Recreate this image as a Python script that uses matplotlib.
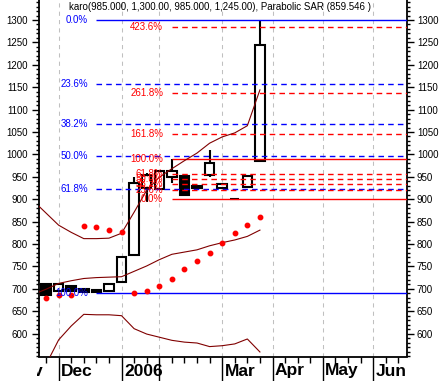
import numpy as np
import matplotlib.pyplot as plt
from matplotlib.ticker import FixedLocator, MultipleLocator
from matplotlib.transforms import Bbox, TransformedBbox, blended_transform_factory

plt.rcParams['font.family'] = ['Liberation Sans', 'DejaVu Sans']

# weekly bars, week 0 = first week of Dec 2005
weeks  = [-1, 0, 1, 2, 3, 4, 5, 6, 7, 8, 9, 10, 11, 12, 13, 14, 15, 16]
opens  = [711, 695, 706, 699, 697, 695, 716, 775, 925, 922, 950, 952, 929, 955, 926, 901, 927, 985]
highs  = [711, 710, 706, 699, 697, 710, 770, 949, 958, 964, 990.5, 955, 929, 1010, 933, 901, 951, 1300]
lows   = [686, 695, 695, 693, 691, 695, 716, 775, 893, 922, 936, 909, 925, 950, 926, 898, 927, 985]
closes = [686, 710, 695, 693, 692, 710, 770, 937, 955, 964, 962, 910, 925, 981, 933, 901, 951, 1245]

# bollinger bands (one more week on the left, cut off by the axes)
bb_weeks = [-2] + weeks
bb_upper = [896, 869, 842, 826, 812, 812, 813, 824, 871, 920, 949, 968, 986, 1003, 1025, 1039, 1048, 1064, 1144]
bb_mid   = [688, 699, 712, 718, 723, 725, 726, 727, 739, 751, 765, 777, 782, 787, 796, 803, 809, 817, 831]
bb_lower = [480, 531, 586, 617, 643, 642, 642, 640, 611, 599, 592, 585, 581, 579, 571, 573, 577, 588, 559]

# parabolic SAR
sar = [679, 686, 686, 840, 837, 831, 826, 691, 695, 706, 721, 743.5, 763, 781, 803, 824, 842, 859.5]

month_pos = [-4, 0, 5, 8, 13, 17, 21, 25]
month_labels = ['Nov', 'Dec', '2006', '', 'Mar', 'Apr', 'May', 'Jun']

# fibonacci retracement (blue), week 3 low -> week 16 high
retr_low, retr_high, retr_start = 691, 1300, 3
retr_ratios = [0.0, 0.236, 0.382, 0.5, 0.618, 1.0]
# fibonacci extension (red), week 14 low / week 9 high
ext_base, ext_top, ext_start = 900, 990.5, 9
ext_ratios = [0.0, 0.236, 0.382, 0.5, 0.618, 1.0, 1.618, 2.618, 4.236]

title = 'karo(985.000, 1,300.00, 985.000, 1,245.00), Parabolic SAR (859.546 )'

W, H = 443, 381
fig = plt.figure(figsize=(W / 100, H / 100), dpi=100)
ax = fig.add_axes([38.5 / W, 24.5 / H, 368 / W, 356.5 / H])
ax.set_xlim(-1.6, 27.65)
ax.set_ylim(548.9, 1344.6)
xmax = ax.get_xlim()[1]

# candles
o = np.array(opens, float)
c = np.array(closes, float)
body_lo = np.minimum(o, c)
body_hi = np.maximum(o, c)
faces = ['none' if cc >= oo else 'black' for oo, cc in zip(o, c)]
ax.vlines(weeks, lows, body_lo, color='k', lw=1.5, zorder=2)
ax.vlines(weeks, body_hi, highs, color='k', lw=1.5, zorder=2)
ax.bar(weeks, body_hi - body_lo, bottom=body_lo, width=0.75, color=faces,
       edgecolor='k', linewidth=1.5, zorder=2)

# fib lines
for r in retr_ratios:
    lvl = retr_high - r * (retr_high - retr_low)
    ls = '-' if r in (0.0, 1.0) else (0, (4, 3))
    ax.hlines(lvl, retr_start, xmax, color='#0000ff', lw=1, linestyles=ls, zorder=3)
    ax.text(retr_start - 0.67, lvl, f'{r * 100:.1f}%', color='#0000ff', ha='right',
            va='center', fontsize=7, zorder=5)
for r in ext_ratios:
    lvl = ext_base + r * (ext_top - ext_base)
    ls = '-' if r in (0.0, 1.0) else (0, (4, 3))
    ax.hlines(lvl, ext_start, xmax, color='#ff0000', lw=1, linestyles=ls, zorder=3)
    ax.text(ext_start - 0.69, lvl, f'{r * 100:.1f}%', color='#ff0000', ha='right',
            va='center', fontsize=7, zorder=5)

# bands + SAR
for band in (bb_upper, bb_mid, bb_lower):
    ax.plot(bb_weeks, band, color='#800000', lw=0.8, zorder=3)
ax.plot(weeks, sar, ls='none', marker='o', ms=3.2, color='#ff0000', zorder=4)

# axes styling
for side in ('left', 'right', 'bottom'):
    ax.spines[side].set_linewidth(1.3)
ax.spines['top'].set_visible(False)

ax.xaxis.set_major_locator(FixedLocator(month_pos))
ax.xaxis.set_minor_locator(MultipleLocator(1))
ax.tick_params(axis='x', which='major', length=18, width=1, labelbottom=False)
ax.tick_params(axis='x', which='minor', length=4.5, width=1)
ax.grid(axis='x', which='major', color='#c0c0c0', lw=0.75, linestyle=(0, (4, 4)), zorder=0)

ax.yaxis.set_major_locator(MultipleLocator(50))
ax.yaxis.set_minor_locator(MultipleLocator(10))
ax.set_yticks(range(600, 1301, 50))
ax.tick_params(axis='y', which='both', left=True, right=True, labelleft=True,
               labelright=True, labelsize=7, pad=2.5)
ax.tick_params(axis='y', which='major', length=5, width=1)
ax.tick_params(axis='y', which='minor', length=2.5, width=1)

trans = blended_transform_factory(ax.transData, fig.transFigure)
clip = TransformedBbox(Bbox([[37 / W, 0], [1, 1]]), fig.transFigure)
for pos, lab in zip(month_pos, month_labels):
    t = ax.text(pos + 0.2, 1 - 371 / H, lab, transform=trans, ha='left', va='center',
                fontsize=12.5, fontweight='bold', clip_on=True)
    t.set_clip_box(clip)

fig.text(219.7 / W, 1 - 7.5 / H, title, ha='center', va='center', fontsize=7)

fig.savefig('out.png', dpi=100)
